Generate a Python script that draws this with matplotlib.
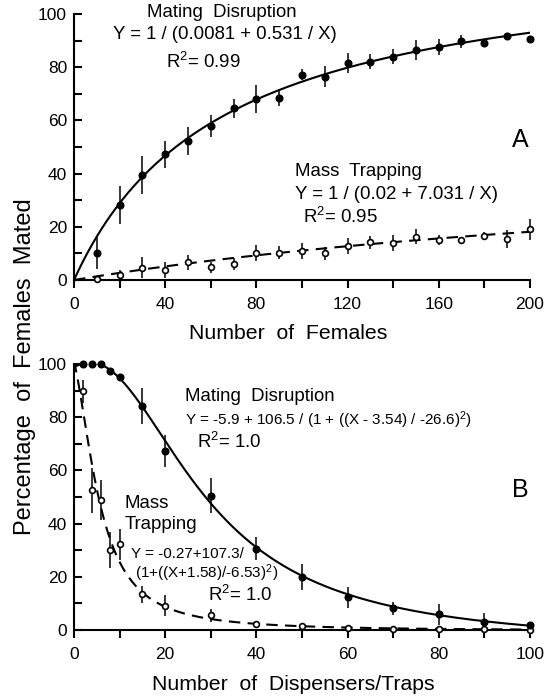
import numpy as np
import matplotlib
matplotlib.use('Agg')
import matplotlib.pyplot as plt

plt.rcParams['font.family'] = ['Liberation Sans', 'DejaVu Sans']
plt.rcParams['mathtext.fontset'] = 'custom'
plt.rcParams['mathtext.rm'] = 'Liberation Sans'
plt.rcParams['mathtext.it'] = 'Liberation Sans'

# Panel A - number of females
females = [10, 20, 30, 40, 50, 60, 70, 80, 90, 100,
           110, 120, 130, 140, 150, 160, 170, 180, 190, 200]
md_a = [10.0, 28.2, 39.5, 47.2, 52.4, 57.9, 64.5, 68.0, 68.5, 77.2,
        76.4, 81.5, 82.0, 84.0, 86.5, 87.7, 89.8, 89.2, 91.7, 90.6]
md_a_err = [6.0, 7.2, 7.0, 5.0, 5.3, 4.0, 3.6, 5.2, 3.0, 2.0,
            4.0, 3.8, 2.8, 2.8, 3.6, 3.0, 2.5, 1.0, 1.0, 1.0]
mt_a = [0.3, 1.9, 4.6, 3.8, 6.6, 4.8, 6.0, 10.0, 10.3, 10.9,
        10.0, 12.8, 14.2, 13.8, 16.3, 15.0, 15.0, 16.5, 15.5, 19.0]
mt_a_err = [0.5, 1.9, 4.0, 3.0, 2.7, 2.0, 2.2, 3.0, 2.5, 3.0,
            2.5, 3.0, 2.5, 3.0, 2.8, 2.0, 1.3, 1.5, 3.4, 3.8]

# Panel B - number of dispensers / traps
dispensers = [2, 4, 6, 8, 10, 15, 20, 30, 40, 50, 60, 70, 80, 90, 100]
md_b = [100, 100, 100, 97.4, 95.1, 84.2, 67.4, 50.5, 30.6, 19.9,
        12.3, 8.1, 5.9, 3.1, 1.9]
md_b_err = [0, 0, 0, 0.5, 0.5, 6.7, 6.0, 6.6, 4.4, 5.0,
            4.0, 2.5, 4.0, 3.3, 1.0]
mt_b = [89.8, 52.6, 48.9, 30.1, 32.2, 13.4, 9.1, 5.5, 2.1, 1.6,
        0.6, 0.4, 0.3, 0.4, 0.0]
mt_b_err = [4.3, 8.5, 7.6, 6.6, 5.8, 3.1, 4.0, 2.5, 0.5, 0.5,
            0.5, 0.5, 0.5, 0.5, 0.5]

# printed fit coefficients
fit_md_a = [0.0081, 0.531]
fit_mt_a = [0.02, 7.031]
fit_md_b = [-5.9, 106.5, 3.54, -26.6]
fit_mt_b = [-0.27, 107.3, -1.58, -6.53]

DASH = (0, (5.5, 3.5))


def hyper(x, c):
    return 1 / (c[0] + c[1] / x)


def lorentz(x, c):
    return c[0] + c[1] / (1 + ((x - c[2]) / c[3]) ** 2)


def style_axes(ax):
    for s in ['top', 'right']:
        ax.spines[s].set_visible(False)
    for s in ['left', 'bottom']:
        ax.spines[s].set_linewidth(1.5)
    ax.tick_params(axis='y', which='both', direction='in', length=6,
                   width=1.5, labelsize=12.5, pad=5)
    ax.tick_params(axis='x', which='both', direction='out', length=6,
                   width=1.5, labelsize=12.5, pad=6)
    ax.set_ylim(0, 100)
    ax.set_yticks(range(0, 101, 20))
    ax.set_yticks(range(0, 101, 10), minor=True)


def points(ax, x, y, err, filled):
    if filled:
        kw = dict(mfc='black', mec='black', ms=4.8)
    else:
        kw = dict(mfc='white', mec='black', ms=4.2, mew=1.2)
    ax.errorbar(x, y, yerr=err, fmt='o', color='black', elinewidth=1.1,
                capsize=0, clip_on=False, zorder=3, **kw)


fig = plt.figure(figsize=(5.44, 6.99), dpi=100)
axA = fig.add_axes([0.136, 0.5994, 0.838, 0.3805])
axB = fig.add_axes([0.136, 0.0987, 0.838, 0.3805])

# ---- Panel A
xa = np.linspace(0.01, 200, 400)
axA.plot(xa, hyper(xa, fit_md_a), 'k-', lw=1.5)
axA.plot(xa, hyper(xa, fit_mt_a), 'k', ls=DASH, lw=1.5)
points(axA, females, md_a, md_a_err, True)
points(axA, females, mt_a, mt_a_err, False)
axA.set_xlim(0, 200)
axA.set_xticks(range(0, 201, 40))
axA.set_xticks(range(0, 201, 20), minor=True)
style_axes(axA)

axA.text(65, 100.5, 'Mating  Disruption', fontsize=13.4, ha='center', va='center')
axA.text(66, 92.4, 'Y = 1 / (0.0081 + 0.531 / X)', fontsize=13.4, ha='center', va='center')
axA.text(57, 82.1, 'R$^2$= 0.99', fontsize=13.4, ha='center', va='center')
axA.text(125, 40.7, 'Mass  Trapping', fontsize=13.4, ha='center', va='center')
axA.text(141.7, 32.0, 'Y = 1 / (0.02 + 7.031 / X)', fontsize=13.4, ha='center', va='center')
axA.text(117, 23.8, 'R$^2$= 0.95', fontsize=13.4, ha='center', va='center')
axA.text(195.6, 52.6, 'A', fontsize=18, ha='center', va='center')

# ---- Panel B
xb = np.linspace(0, 100, 400)
axB.plot(xb, lorentz(xb, fit_md_b), 'k-', lw=1.5)
axB.plot(xb, lorentz(xb, fit_mt_b), 'k', ls=DASH, lw=1.5)
points(axB, dispensers, mt_b, mt_b_err, False)
points(axB, dispensers, md_b, md_b_err, True)
axB.set_xlim(0, 100)
axB.set_xticks(range(0, 101, 20))
axB.set_xticks(range(0, 101, 10), minor=True)
style_axes(axB)

axB.text(24.3, 87.7, 'Mating  Disruption', fontsize=13.4, ha='left', va='center')
axB.text(24.3, 79.0, 'Y = -5.9 + 106.5 / (1 + ((X - 3.54) / -26.6)$^2$)',
         fontsize=11, ha='left', va='center')
axB.text(26.9, 70.8, 'R$^2$= 1.0', fontsize=13.4, ha='left', va='center')
axB.text(11.0, 47.6, 'Mass', fontsize=13.4, ha='left', va='center')
axB.text(11.0, 39.5, 'Trapping', fontsize=13.4, ha='left', va='center')
axB.text(12.4, 28.6, 'Y = -0.27+107.3/', fontsize=11, ha='left', va='center')
axB.text(13.4, 21.3, '(1+((X+1.58)/-6.53)$^2$)', fontsize=11, ha='left', va='center')
axB.text(29.5, 13.2, 'R$^2$= 1.0', fontsize=13.4, ha='left', va='center')
axB.text(97.8, 52.6, 'B', fontsize=18, ha='center', va='center')

# axis titles
fig.text(288 / 544, 1 - 333 / 699, 'Number  of  Females', fontsize=15.3,
         ha='center', va='center')
fig.text(293 / 544, 1 - 685 / 699, 'Number  of  Dispensers/Traps', fontsize=15.3,
         ha='center', va='center')
fig.text(25 / 544, 1 - 367 / 699, 'Percentage  of  Females  Mated', fontsize=17,
         rotation=90, ha='center', va='center')

plt.savefig('out.png', dpi=100)
plt.close()
